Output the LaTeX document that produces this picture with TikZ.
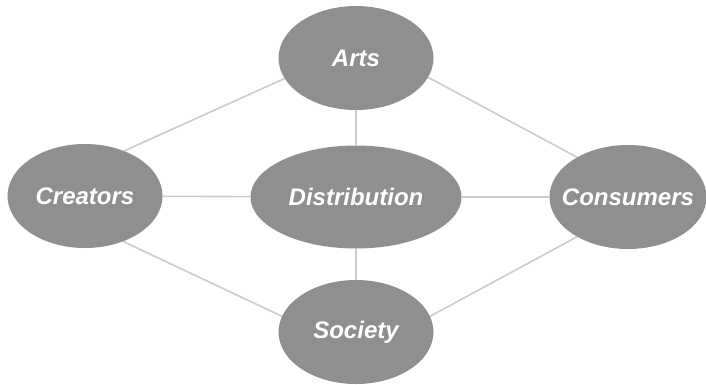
\documentclass[tikz,border=0pt]{standalone}
\usepackage{fontspec}
\setmainfont{Liberation Sans}
\usepackage{tikz}
\usetikzlibrary{shapes.geometric,backgrounds}
\definecolor{nodegray}{HTML}{8F8F8F}
\definecolor{linkgray}{HTML}{CCCCCC}

\begin{document}
\begin{tikzpicture}[x=1pt,y=-1pt,
  topic/.style={draw=none, ellipse, fill=nodegray, text=white,
    inner xsep=-30pt, inner ysep=0pt,
    minimum width=155pt, minimum height=104pt,
    font=\fontsize{24pt}{28pt}\selectfont\bfseries\itshape},
  link/.style={draw=linkgray, line width=1.6pt}]
\useasboundingbox (0,0) rectangle (706,384);
\node[topic] (arts) at (356,58) {Arts};
\node[topic] (creators) at (85,196) {Creators};
\node[topic, minimum width=211pt, minimum height=103pt] (dist) at (356,197) {Distribution};
\node[topic, minimum width=157pt] (consumers) at (628,197) {Consumers};
\node[topic] (society) at (356,332) {Society};

\begin{scope}[on background layer]
\draw[link] (creators.49) -- (arts.196);
\draw[link] (arts.345) -- (consumers.142);
\draw[link] (creators.310) -- (society.168);
\draw[link] (consumers.218) -- (society.12);
\draw[link] (arts) -- (dist);
\draw[link] (dist) -- (society);
\draw[link] (creators) -- (dist);
\draw[link] (dist) -- (consumers);
\end{scope}

\end{tikzpicture}
\end{document}
